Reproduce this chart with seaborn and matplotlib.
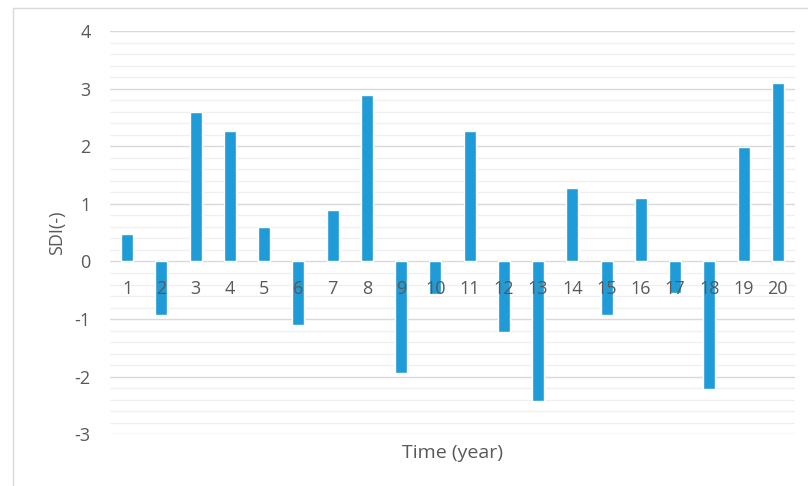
import matplotlib
matplotlib.use("Agg")
import matplotlib.pyplot as plt
from matplotlib.patches import Rectangle
import seaborn as sns
import pandas as pd
import numpy as np

years = [str(i) for i in range(1, 21)]
sdi = [0.48, -0.93, 2.60, 2.27, 0.60, -1.11, 0.89, 2.89, -1.93, -0.56,
       2.27, -1.22, -2.43, 1.27, -0.93, 1.10, -0.55, -2.22, 1.98, 3.10]

df = pd.DataFrame({"year": years, "sdi": sdi})

sns.set_style("white")
plt.rcParams["font.family"] = ["Open Sans", "DejaVu Sans"]

W, H = 808, 486
fig = plt.figure(figsize=(W / 100, H / 100), dpi=100)
left, right, top, bottom = 110, 795, 31, 434.3
ax = fig.add_axes([left / W, 1 - bottom / H, (right - left) / W, (bottom - top) / H])

# horizontal guides: light minor lines every 0.2, darker ones at integers
for v in np.round(np.arange(-3, 4.001, 0.2), 1):
    major = abs(v - round(v)) < 1e-9
    ax.axhline(v, color="#D9D9D9" if major else "#F0F0F0", lw=1.0, zorder=0.2)

bar_color = "#1F9CD8"
sns.barplot(data=df, x="year", y="sdi", color=bar_color, width=0.35,
            saturation=1, ax=ax, zorder=1)

ax.set_ylim(-3, 4)
ax.set_xlim(-0.5, len(years) - 0.5)
ax.grid(False)
ax.set_axisbelow(False)

for s in ["top", "right", "left"]:
    ax.spines[s].set_visible(False)
ax.spines["bottom"].set_position(("data", 0))
ax.spines["bottom"].set_visible(False)

text_color = "#595959"
ax.tick_params(axis="x", length=0, pad=13, labelsize=13, labelcolor=text_color)
ax.tick_params(axis="y", which="both", length=0, pad=14, labelsize=13,
               labelcolor=text_color)
ax.set_yticks(range(-3, 5))
ax.set_yticklabels([str(v) for v in range(-3, 5)])

ax.set_xlabel("Time (year)", fontsize=14, color=text_color)
ax.xaxis.set_label_coords(0.5, -0.0456)
ax.xaxis.label.set_va("center")
ax.set_ylabel("SDI(-)", fontsize=13, color=text_color)
ax.yaxis.set_label_coords(-0.077, 0.5)
ax.yaxis.label.set_va("center")

# light frame around the chart area
fig.patches.append(Rectangle((12.5 / W, -0.2), 2.0, 1.2 - 7.5 / H,
                             transform=fig.transFigure, fill=False,
                             edgecolor="#D9D9D9", lw=1.0))

fig.savefig("out.png", dpi=100)
